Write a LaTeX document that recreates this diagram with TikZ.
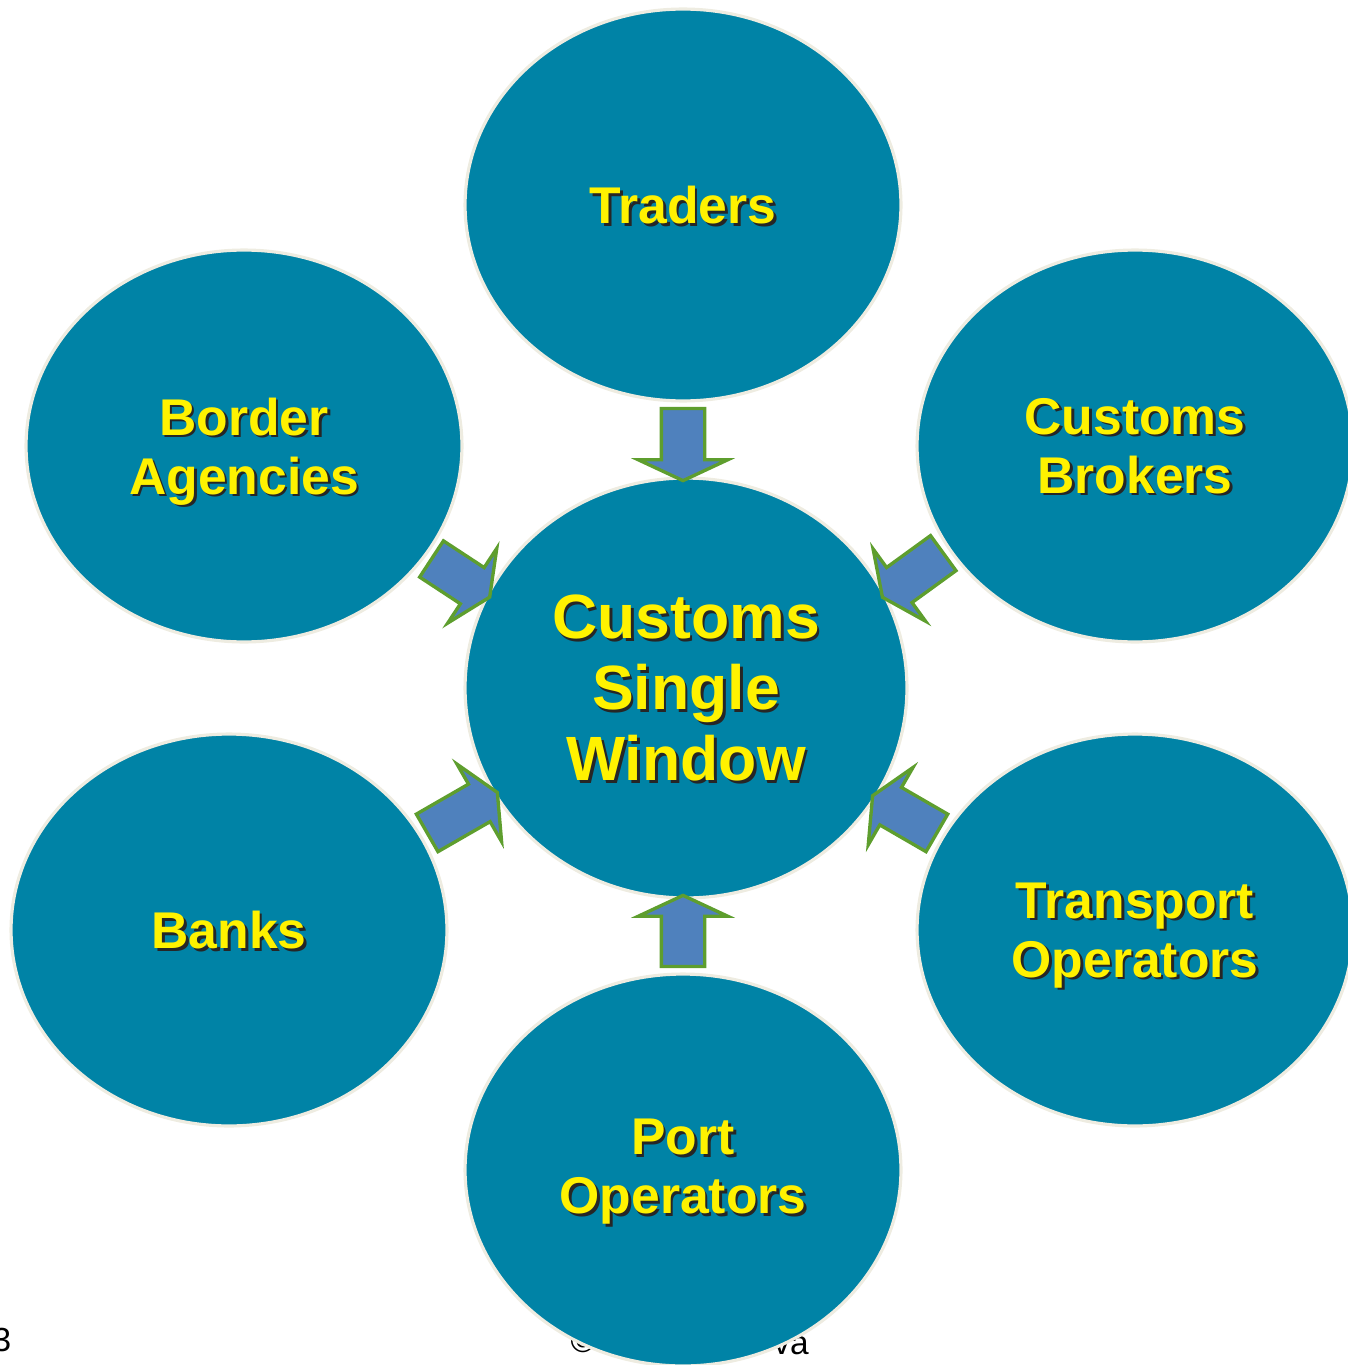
\documentclass[tikz,border=0pt]{standalone}
\usepackage{fontspec}
\usetikzlibrary{shapes.geometric,
	shapes.arrows,
	calc,
	positioning}
\newfontfamily\labelfont{Liberation Sans}
\definecolor{bubble}{HTML}{0083A6}
\definecolor{cream}{HTML}{EEECE1}
\definecolor{flowblue}{HTML}{4F81BD}
\definecolor{flowgreen}{HTML}{5E9E2E}
\tikzstyle{party}=[ellipse, draw=cream, line width=1.8pt, fill=bubble, inner sep=0,
		minimum width=8.72cm, minimum height=7.84cm]
\tikzstyle{hub}=[party, minimum width=8.84cm, minimum height=8.4cm]
\tikzstyle{lbl}=[text=yellow, align=center, inner sep=0,
		font=\labelfont\bfseries\fontsize{29.4}{33.6}\selectfont]
\tikzstyle{hublbl}=[lbl, font=\labelfont\bfseries\fontsize{35.6}{40.4}\selectfont]
\tikzstyle{shade}=[text=black!85, xshift=1.5pt, yshift=-1.5pt]
\tikzstyle{flow}=[single arrow, draw=flowgreen, fill=flowblue, line width=1.9pt,
		inner xsep=0, inner ysep=0.4cm, single arrow head extend=0.46cm,
		single arrow tip angle=130, single arrow head indent=0]
\tikzstyle{foot}=[text=black, inner sep=0, font=\labelfont\fontsize{19}{22}\selectfont]

\begin{document}
\begin{tikzpicture}[x=0.02cm, y=-0.02cm]
        \useasboundingbox (0,0) rectangle (1348,1365);
        % footer, mostly hidden
        \node[foot] (pagenum) at (2,1340) {3};
        \node[foot] (copy) at (583,1341) {©};
        \node[foot] (place) at (791,1346) {va};
        % bubbles
        \node[party] (traders) at (683,205) {};
        \node[party] (border) at (244,446) {};
        \node[party] (brokers) at (1135,446) {};
        \node[party] (banks) at (229,930) {};
        \node[party] (transport) at (1135,930) {};
        \node[party] (port) at (683,1170) {};
        \node[hub] (csw) at (686,688) {};
        % block arrows into the hub
        \foreach \a/\b [count=\i] in {traders.south/traders.south |- csw.north,
                border.-31/csw.155, brokers.-151/csw.25,
                transport.154/csw.-30, banks.26/csw.-151,
                port.north/port.north |- csw.south}
            \path let \p1=(\a), \p2=(\b),
                \n1={atan2(\y2-\y1,\x2-\x1)}, \n2={veclen(\x2-\x1,\y2-\y1)} in
                node[flow, minimum height=\n2-1pt, rotate=\n1] (arrow-\i)
                    at ($(\p1)!0.5!(\p2)$) {};
        % labels with drop shadow
        \foreach \n/\t/\d in {traders/Traders/0, border/{Border\\Agencies}/-3,
                brokers/{Customs\\Brokers}/0, banks/Banks/0,
                transport/{Transport\\Operators}/-3, port/{Port\\Operators}/-1} {
            \node[lbl, shade, yshift=\d pt] (\n-s) at (\n) {\t};
            \node[lbl, yshift=\d pt] (\n-t) at (\n) {\t};
        }
        \node[hublbl, shade] (csw-s) at (csw) {Customs\\Single\\Window};
        \node[hublbl] (csw-t) at (csw) {Customs\\Single\\Window};
    \end{tikzpicture}
\end{document}
